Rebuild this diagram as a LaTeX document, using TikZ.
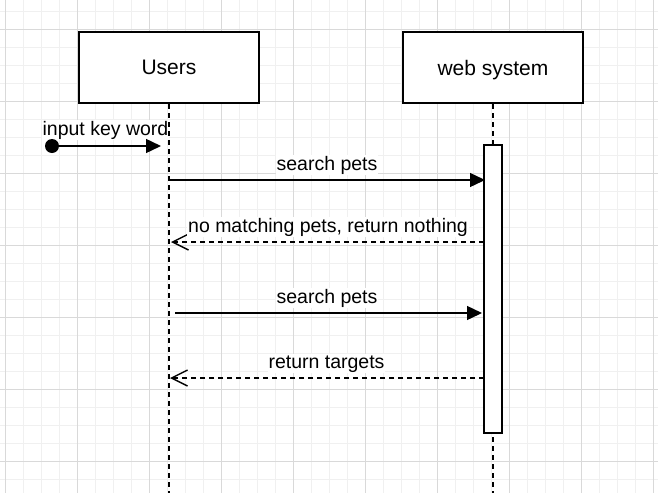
\documentclass[tikz,border=0pt]{standalone}
\usepackage{fontspec}
\setmainfont{Liberation Sans}
\usetikzlibrary{arrows.meta}
\definecolor{gridmajor}{HTML}{D9D9D9}
\definecolor{gridminor}{HTML}{F0F0F0}

\begin{document}
\begin{tikzpicture}[x=1pt,y=-1pt,
    actor/.style={draw,line width=2pt,fill=white,minimum width=180pt,minimum height=71pt,text depth=0pt,font=\fontsize{21}{25}\selectfont},
    actbar/.style={draw,line width=1.6pt,fill=white,minimum width=18pt,minimum height=288pt},
    lifeline/.style={line width=1.5pt,dash pattern=on 5pt off 4pt},
    msg/.style={line width=1.4pt,-{Triangle[length=15pt,width=14pt]}},
    reply/.style={line width=1.4pt,dash pattern=on 5pt off 4pt,-{Straight Barb[length=16pt,width=16pt,line width=1.4pt]}},
    lbl/.style={anchor=base,fill=white,inner sep=1pt,font=\fontsize{19.5}{23}\selectfont}]

    \useasboundingbox (0,0) rectangle (658,493);
    \fill[white] (0,0) rectangle (658,493);
    % background grid
    \foreach \gx in {5,23,...,657} \draw[gridminor,line width=0.8pt] (\gx,0) -- (\gx,493);
    \foreach \gy in {11,29,...,492} \draw[gridminor,line width=0.8pt] (0,\gy) -- (658,\gy);
    \foreach \gx in {5,77,...,653} \draw[gridmajor,line width=0.8pt] (\gx,0) -- (\gx,493);
    \foreach \gy in {29,101,...,461} \draw[gridmajor,line width=0.8pt] (0,\gy) -- (658,\gy);

    \node[actor] (users) at (169,67.5) {Users};
    \node[actor] (websys) at (493,67.5) {web system};
    \coordinate (uend) at (169,493);
    \coordinate (wend) at (493,493);

    \node[lbl] (kwlabel) at (105.5,135) {input key word};

    \draw[lifeline] (users.south) -- (uend);
    \draw[lifeline] (websys.south) -- (wend);
    \node[actbar] (act) at (493,289) {};

    % messages
    \coordinate (kwstart) at (52,146);
    \coordinate (kwend) at (161,146);
    \coordinate (u1) at (169,180);
    \coordinate (w1) at (485,180);
    \coordinate (w2) at (484,242);
    \coordinate (u2) at (171,242);
    \coordinate (u3) at (175,313);
    \coordinate (w3) at (482,313);
    \coordinate (w4) at (484,378);
    \coordinate (u4) at (170,378);

    \fill (kwstart) circle (7pt);
    \draw[msg] (kwstart) -- (kwend);

    \draw[msg] (u1) -- (w1);
    \node[lbl] at (327,170) {search pets};
    \draw[reply] (w2) -- (u2);
    \node[lbl] at (328,232) {no matching pets, return nothing};
    \draw[msg] (u3) -- (w3);
    \node[lbl] at (327,303) {search pets};
    \draw[reply] (w4) -- (u4);
    \node[lbl] at (326.5,368) {return targets};
\end{tikzpicture}
\end{document}
